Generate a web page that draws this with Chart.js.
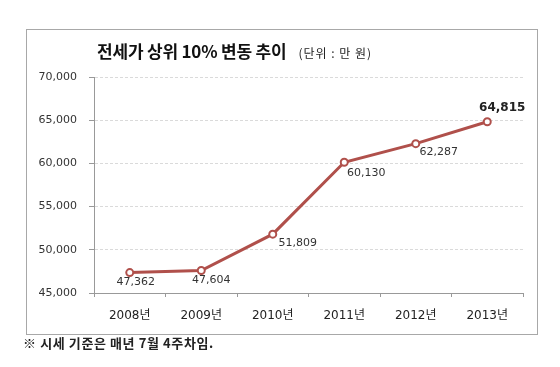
<!DOCTYPE html>
<html>
<head>
<meta charset="utf-8">
<script src="https://cdn.jsdelivr.net/npm/chart.js@4"></script>
<style>
  html, body { margin: 0; padding: 0; background: #fff; }
  #wrap { position: relative; width: 560px; height: 367px; overflow: hidden; }
  #box { position: absolute; left: 26px; top: 29px; width: 510px; height: 304px; border: 1.5px solid #a8a8a8; }
  #title { position: absolute; left: 97px; top: 39px; font-family: "Noto Sans CJK KR", sans-serif; font-weight: bold; font-size: 17px; color: #111; white-space: nowrap; line-height: 24px; letter-spacing: -0.2px; }
  #unit { font-size: 12px; font-weight: normal; margin-left: 12px; color: #222; letter-spacing: 1px; }
  #note { position: absolute; left: 23px; top: 335px; font-family: "Noto Sans CJK KR", sans-serif; font-weight: bold; font-size: 13px; color: #222; white-space: nowrap; line-height: 16px; letter-spacing: 0.6px; }
  canvas { position: absolute; left: 0; top: 0; }
</style>
</head>
<body>
<div id="wrap">
  <div id="box"></div>
  <canvas id="c" width="560" height="367"></canvas>
  <div id="title">전세가 상위 10% 변동 추이<span id="unit">(단위 : 만 원)</span></div>
  <div id="note">※ 시세 기준은 매년 7월 4주차임.</div>
</div>
<script>
const categories = ["2008년", "2009년", "2010년", "2011년", "2012년", "2013년"];
const values = [47362, 47604, 51809, 60130, 62287, 64815];
const yTicks = [45000, 50000, 55000, 60000, 65000, 70000];
// label offsets relative to each point (dx, dy) and emphasis
const labelDx = [6, 10, 25, 22, 23, 15];
const labelDy = [10, 10, 9, 11, 9, -14];
const labelBold = [false, false, false, false, false, true];

const lineColor = "#b0504b";
const numFont = '"DejaVu Sans", "Noto Sans CJK KR", sans-serif';

const labelPlugin = {
  id: 'pointLabels',
  afterDatasetsDraw(chart) {
    const ctx = chart.ctx;
    const meta = chart.getDatasetMeta(0);
    ctx.save();
    ctx.textAlign = 'center';
    ctx.textBaseline = 'middle';
    meta.data.forEach((pt, i) => {
      ctx.font = (labelBold[i] ? 'bold 12px ' : '11px ') + numFont;
      ctx.fillStyle = labelBold[i] ? '#222' : '#333';
      ctx.fillText(values[i].toLocaleString('en-US'), pt.x + labelDx[i], pt.y + labelDy[i]);
    });
    ctx.restore();
  }
};

new Chart(document.getElementById('c'), {
  type: 'line',
  data: {
    labels: categories,
    datasets: [{
      data: values,
      borderColor: lineColor,
      borderWidth: 3,
      pointBackgroundColor: '#fff',
      pointBorderColor: lineColor,
      pointBorderWidth: 2,
      pointRadius: 3.5,
      tension: 0
    }]
  },
  options: {
    responsive: false,
    animation: false,
    events: [],
    layout: { padding: { left: 0, right: 37, top: 77, bottom: 44 } },
    plugins: { legend: { display: false }, tooltip: { enabled: false }, title: { display: false } },
    scales: {
      x: {
        offset: true,
        grid: { offset: true, drawOnChartArea: false, drawTicks: true, tickLength: 4, tickColor: '#999', tickWidth: 1 },
        border: { display: true, color: '#999', width: 1 },
        ticks: { color: '#222', font: { family: numFont, size: 12 }, padding: 12, maxRotation: 0, autoSkip: false },
        afterFit(s) { s.height = 30; }
      },
      y: {
        min: 45000, max: 70000,
        afterBuildTicks(s) { s.ticks = yTicks.map(v => ({ value: v })); },
        grid: {
          color: (c) => (c.tick && c.tick.value === 45000) ? 'rgba(0,0,0,0)' : '#dadada',
          tickColor: '#999', tickLength: 5, lineWidth: 1
        },
        border: { display: true, color: '#999', width: 1, dash: [3, 2] },
        ticks: {
          color: '#333', font: { family: numFont, size: 11 }, padding: 12,
          callback: (v) => v.toLocaleString('en-US')
        },
        afterFit(s) { s.width = 94; }
      }
    }
  },
  plugins: [labelPlugin]
});
</script>
</body>
</html>
